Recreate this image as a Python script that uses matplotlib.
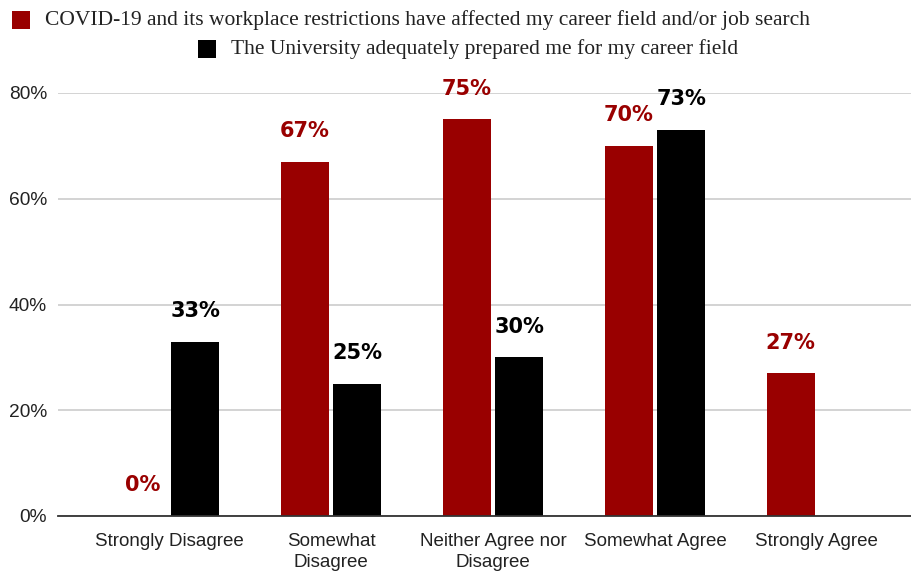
import matplotlib
matplotlib.use("Agg")
import matplotlib.pyplot as plt
import numpy as np
from matplotlib.patches import Rectangle

categories = ["Strongly Disagree", "Somewhat\nDisagree", "Neither Agree nor\nDisagree", "Somewhat Agree", "Strongly Agree"]
series_names = ["COVID-19 and its workplace restrictions have affected my career field and/or job search",
                "The University adequately prepared me for my career field"]
covid = [0, 67, 75, 70, 27]
univ = [33, 25, 30, 73, None]
colors = ["#990000", "#000000"]
yticks = [0, 20, 40, 60, 80]

fig = plt.figure(figsize=(9.12, 5.73), dpi=100)
ax = fig.add_axes([58/912, 1-516/573, 1-58/912, (516-93)/573])

x = np.arange(len(categories))
w = 0.296
off = 0.162
for vals, sign, col in [(covid, -1, colors[0]), (univ, 1, colors[1])]:
    for xi, v in zip(x, vals):
        if v is None:
            continue
        ax.bar(xi + sign*off, v, width=w, color=col, zorder=3)
        ax.annotate(f"{v}%", (xi + sign*off, v), xytext=(0, 22), textcoords="offset points",
                    ha="center", va="center", fontsize=15, fontweight="bold", color=col,
                    family="DejaVu Sans", annotation_clip=False)

ax.set_xlim(-0.685, 4.587)
ax.set_ylim(0, 80)
ax.set_yticks(yticks)
ax.set_yticklabels([f"{t}%" for t in yticks], family="Liberation Sans", fontsize=13.8, color="#222222")
ax.set_xticks(x)
ax.set_xticklabels(categories, family="Liberation Sans", fontsize=13.5, color="#222222", linespacing=1.35)
ax.tick_params(axis="both", length=0)
ax.tick_params(axis="y", pad=8)
ax.tick_params(axis="x", pad=12)
for s in ["top", "right", "left"]:
    ax.spines[s].set_visible(False)
ax.spines["bottom"].set_color("#333333")
ax.spines["bottom"].set_linewidth(1.3)
ax.spines["bottom"].set_zorder(4)
ax.grid(axis="y", color="#cccccc", linewidth=1.2, zorder=0)
ax.set_axisbelow(True)

# legend
leg = [(12/912, 1-20/573, series_names[0], colors[0]), (198/912, 1-49/573, series_names[1], colors[1])]
for lx, ly, name, col in leg:
    fig.patches.append(Rectangle((lx, ly - 9/573), 18/912, 18/573, transform=fig.transFigure,
                                 facecolor=col, edgecolor="none"))
    fig.text(lx + 33/912, ly, name, family="Liberation Serif", fontsize=15.5, color="#222222",
             ha="left", va="center")

fig.savefig("out.png", dpi=100)
